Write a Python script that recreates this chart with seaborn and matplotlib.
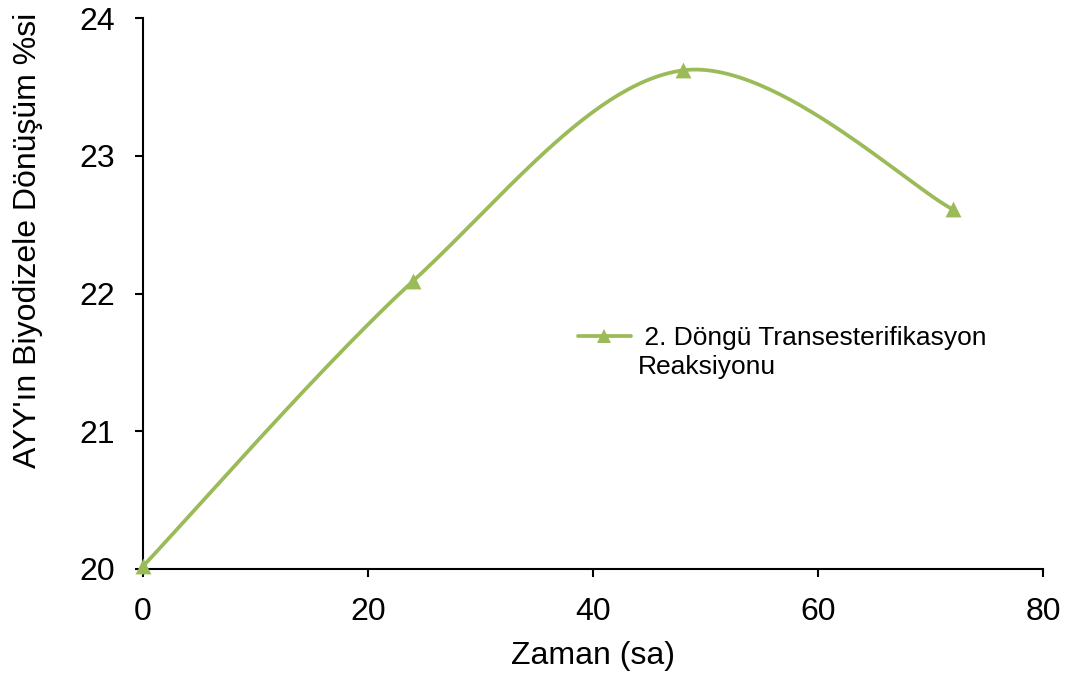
import numpy as np
import pandas as pd
import matplotlib
matplotlib.use("Agg")
import matplotlib.pyplot as plt
from matplotlib.lines import Line2D
import seaborn as sns

# Conversion of waste oil to biodiesel over reaction time (2nd cycle)
time_h = [0, 24, 48, 72]
conversion = [20.02, 22.09, 23.62, 22.61]
series_label = [" 2. Döngü Transesterifikasyon", "Reaksiyonu"]
x_ticks = [0, 20, 40, 60, 80]
y_ticks = [20, 21, 22, 23, 24]

GREEN = "#9BBB59"
FS = 23

sns.set_theme(style="white")
plt.rcParams["font.family"] = ["Liberation Sans", "DejaVu Sans"]

fig = plt.figure(figsize=(10.69, 6.75), dpi=100)
ax = fig.add_axes([143 / 1069, 1 - 569 / 675, 900 / 1069, 551 / 675])
ax.set_xlim(0, 80)
ax.set_ylim(20, 24)


def smooth_curve(xs, ys, xr, yr, n=60):
    """Bezier smoothing (tension 1/6) computed in axis-proportional space."""
    sx, sy = 900 / xr, 551 / yr
    P = np.column_stack([np.asarray(xs) * sx, (np.asarray(ys) - 20) * sy])
    pts = []
    t = np.linspace(0, 1, n)[:, None]
    for i in range(len(P) - 1):
        p0 = P[i]
        p3 = P[i + 1]
        prev = P[i - 1] if i > 0 else P[i]
        nxt = P[i + 2] if i + 2 < len(P) else P[i + 1]
        c1 = p0 + (p3 - prev) / 6
        c2 = p3 - (nxt - p0) / 6
        seg = ((1 - t) ** 3) * p0 + 3 * ((1 - t) ** 2) * t * c1 \
            + 3 * (1 - t) * t ** 2 * c2 + t ** 3 * p3
        pts.append(seg if i == 0 else seg[1:])
    pts = np.vstack(pts)
    return pts[:, 0] / sx, pts[:, 1] / sy + 20


cx, cy = smooth_curve(time_h, conversion, 80, 4)
curve = pd.DataFrame({"x": cx, "y": cy})
points = pd.DataFrame({"x": time_h, "y": conversion})

sns.lineplot(data=curve, x="x", y="y", sort=False, color=GREEN,
             linewidth=2.7, ax=ax, legend=False, clip_on=False)
sns.scatterplot(data=points, x="x", y="y", marker="^", s=130, color=GREEN,
                edgecolor=GREEN, linewidth=0, ax=ax, legend=False,
                clip_on=False, zorder=5)

ax.set_xticks(x_ticks)
ax.set_yticks(y_ticks)
ax.set_xticklabels([str(v) for v in x_ticks], fontsize=FS)
ax.set_yticklabels([str(v) for v in y_ticks], fontsize=FS)
ax.tick_params(axis="both", direction="out", length=6, width=1.5,
               color="black", pad=14, labelcolor="black", bottom=True, left=True)

for side in ["top", "right"]:
    ax.spines[side].set_visible(False)
for side in ["left", "bottom"]:
    ax.spines[side].set_color("black")
    ax.spines[side].set_linewidth(1.5)

ax.set_xlabel("Zaman (sa)", fontsize=FS, color="black", labelpad=10)
ax.set_ylabel("AYY'ın Biyodizele Dönüşüm %si", fontsize=FS, color="black")
ax.yaxis.set_label_coords(-0.111, 0.597)

handle = Line2D([], [], color=GREEN, linewidth=2.7, marker="^",
                markersize=10.5, markerfacecolor=GREEN, markeredgewidth=0)
blank = Line2D([], [], color="none", linewidth=0)
fig.legend([handle, blank], series_label, loc="upper left",
           bbox_to_anchor=(578 / 1069, 1 - 326 / 675), frameon=False,
           fontsize=19, handlelength=2.0, handletextpad=0.25,
           labelspacing=0.2, borderpad=0, borderaxespad=0, labelcolor="black")

fig.savefig("out.png", dpi=100, facecolor="white")
